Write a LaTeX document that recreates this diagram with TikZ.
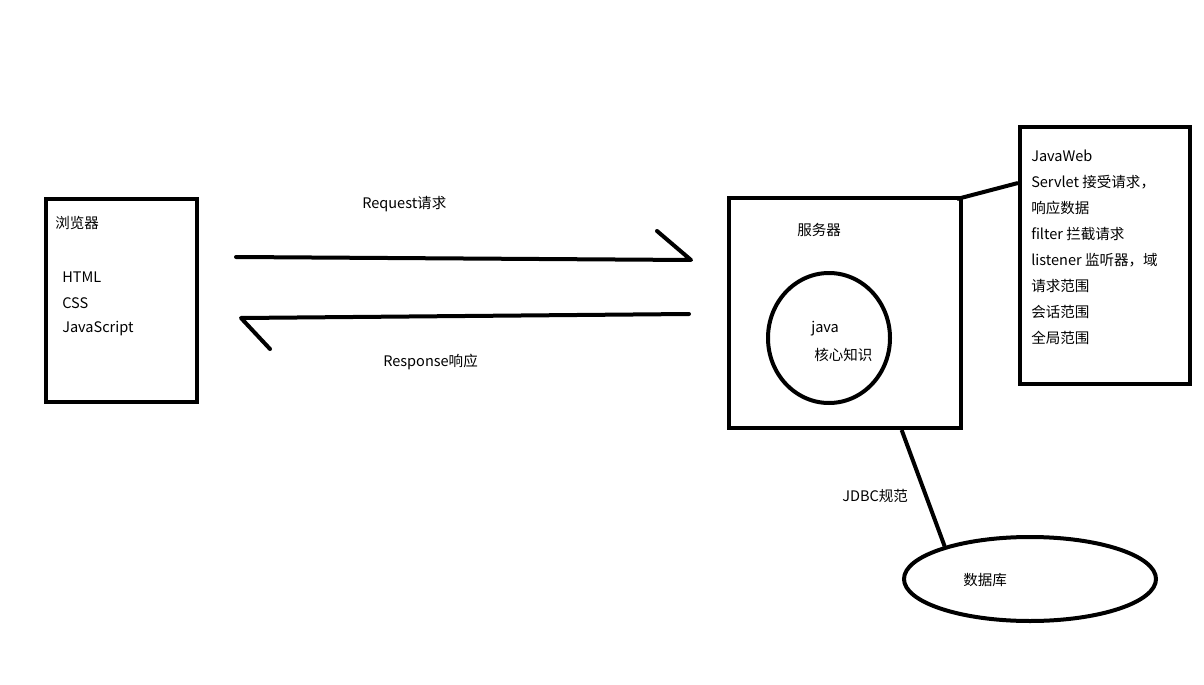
\documentclass[tikz,border=0pt]{standalone}
\usepackage{fontspec}
\setmainfont{Noto Sans CJK SC}
\usetikzlibrary{shapes,positioning,calc}

\begin{document}
\begin{tikzpicture}[
    x=0.75pt, y=-0.75pt,
    box/.style={draw, rectangle, line width=3pt, inner sep=0pt},
    blob/.style={draw, ellipse, line width=3pt, inner sep=0pt},
    wire/.style={line width=3pt, line cap=round, line join=round},
    txt/.style={anchor=west, inner sep=0pt, font=\fontsize{10.9}{12}\selectfont}
]
    \useasboundingbox (0,0) rectangle (1204,685);

    % Browser
    \node[box, minimum width=151*0.75pt, minimum height=203*0.75pt] (browser) at (121.5,300.5) {};
    \node[txt] (browsertitle) at (55,223) {浏览器};
    \node[txt] (html) at (62,277) {HTML};
    \node[txt] (css) at (62,303) {CSS};
    \node[txt] (js) at (62,329) {JavaScript};

    % Server
    \node[box, minimum width=232*0.75pt, minimum height=230*0.75pt] (server) at (845,313) {};
    \node[txt] (servertitle) at (797,230) {服务器};
    \node[blob, minimum width=122*0.75pt, minimum height=130*0.75pt] (core) at (829,338) {};
    \node[txt] (java) at (811,329) {java};
    \node[txt] (corelabel) at (814,355) {核心知识};

    % JavaWeb notes
    \node[box, minimum width=170*0.75pt, minimum height=257*0.75pt] (javaweb) at (1105,255.5) {};
    \foreach \t [count=\i from 0] in {JavaWeb, Servlet 接受请求，, 响应数据, filter 拦截请求,
        listener 监听器，域, 请求范围, 会话范围, 全局范围} {
        \node[txt] (web\i) at (1031,156+26*\i) {\t};
    }

    % Database
    \node[blob, minimum width=252*0.75pt, minimum height=84*0.75pt] (db) at (1030,579) {};
    \node[txt] (dblabel) at (963,580) {数据库};

    % Request / response
    \coordinate (reqstart) at (236,257);
    \coordinate (reqtip) at (691,260);
    \coordinate (reqbarb) at (657,231);
    \coordinate (resstart) at (689,314);
    \coordinate (restip) at (241,318);
    \coordinate (resbarb) at (270,349);
    \draw[wire] (reqstart) -- (reqtip) -- (reqbarb);
    \draw[wire] (resstart) -- (restip) -- (resbarb);
    \node[txt] (reqlabel) at (362,204) {Request请求};
    \node[txt] (reslabel) at (383,362) {Response响应};

    % Links
    \draw[wire, line cap=butt] (server.north east) ++(-6,3) coordinate (srvcorner) -- (javaweb.west |- 0,183);
    \draw[wire, line cap=butt] ($(server.south west)!0.74!(server.south east)$) -- (db.159);
    \node[txt] (jdbc) at (842,496) {JDBC规范};
\end{tikzpicture}
\end{document}
